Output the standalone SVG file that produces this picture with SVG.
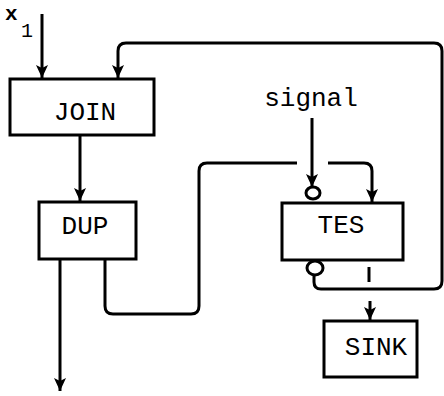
<svg xmlns="http://www.w3.org/2000/svg" width="444" height="396" viewBox="0 0 444 396">
<style>
.box{fill:#fff;stroke:#000;stroke-width:3}
.ln{fill:none;stroke:#000;stroke-width:3}
.lbl{font-family:"Liberation Mono","Courier New",monospace;font-size:26px;fill:#000;text-anchor:middle}
.oval{fill:#fff;stroke:#000;stroke-width:3}
</style>
<defs>
<marker id="ah" markerUnits="userSpaceOnUse" markerWidth="14" markerHeight="14" viewBox="0 0 14 14" refX="13" refY="7" orient="auto">
<path d="M0,1 L13,7 L0,13 L3,7 Z" fill="#000"/>
</marker>
</defs>
<g id="connectors">
<path class="ln" d="M42,14 V78" marker-end="url(#ah)"/>
<path class="ln" d="M314,276 V282 Q314,289 321,289 H434 Q442,289 442,281 V51 Q442,43 434,43 H126 Q118,43 118,51 V78" marker-end="url(#ah)"/>
<path class="ln" d="M80,135 V201" marker-end="url(#ah)"/>
<path class="ln" d="M60,259 V391" marker-end="url(#ah)"/>
<path class="ln" d="M105,259 V306 Q105,314 113,314 H191 Q199,314 199,306 V171 Q199,163 207,163 H297"/>
<path class="ln" d="M328,163 H364 Q372,163 372,171 V202" marker-end="url(#ah)"/>
<path class="ln" d="M312,118 V187" marker-end="url(#ah)"/>
<path class="ln" d="M369,267 V282"/>
<path class="ln" d="M370,301 V320" marker-end="url(#ah)"/>
</g>
<g id="x1">
<text x="5" y="20" style="font-family:'Liberation Mono',monospace;font-size:21px;font-weight:bold">x</text>
<text x="21" y="37" style="font-family:'Liberation Mono',monospace;font-size:20px">1</text>
</g>
<g id="join">
<rect class="box" x="10" y="79" width="144" height="56"/>
<text class="lbl" x="85" y="120">JOIN</text>
</g>
<g id="dup">
<rect class="box" x="39" y="202" width="97" height="57"/>
<text class="lbl" x="85" y="234">DUP</text>
</g>
<g id="tes">
<rect class="box" x="282" y="203" width="121" height="57"/>
<text class="lbl" x="341" y="233">TES</text>
<ellipse class="oval" cx="313" cy="193" rx="7" ry="6"/>
<ellipse class="oval" cx="315" cy="268" rx="8" ry="7"/>
</g>
<g id="signal">
<text class="lbl" x="311" y="106">signal</text>
</g>
<g id="sink">
<rect class="box" x="324" y="321" width="93" height="56"/>
<text class="lbl" x="376" y="355">SINK</text>
</g>
</svg>
